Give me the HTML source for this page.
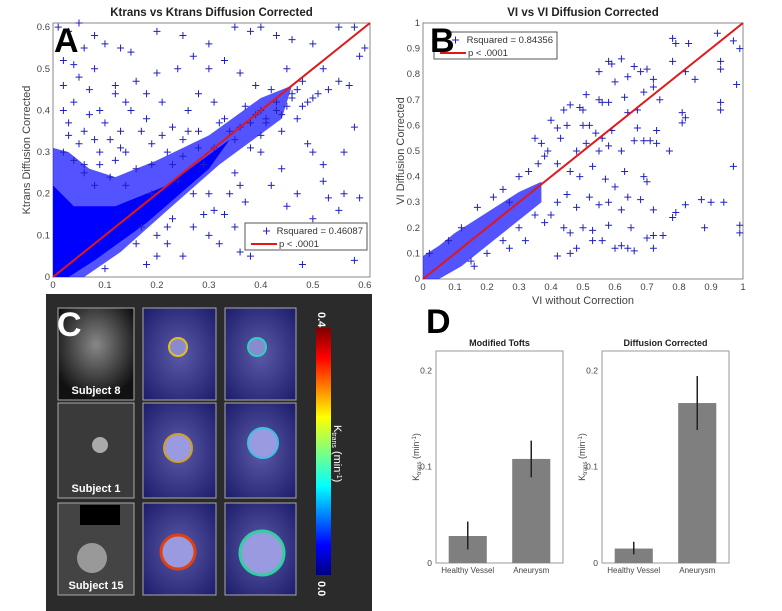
<!DOCTYPE html>
<html><head><meta charset="utf-8"><style>
html,body{margin:0;padding:0;background:#fff;}
svg{display:block;font-family:"Liberation Sans",sans-serif;}
</style></head><body>
<svg id="fig" width="782" height="611" viewBox="0 0 782 611">
<defs>
<linearGradient id="jet" x1="0" y1="1" x2="0" y2="0">
<stop offset="0" stop-color="#00007f"/><stop offset="0.12" stop-color="#0000ff"/><stop offset="0.36" stop-color="#00ffff"/><stop offset="0.5" stop-color="#7fff7f"/><stop offset="0.64" stop-color="#ffff00"/><stop offset="0.88" stop-color="#ff0000"/><stop offset="1" stop-color="#7f0000"/>
</linearGradient>
<radialGradient id="ct1" cx="0.5" cy="0.4" r="0.6"><stop offset="0" stop-color="#888"/><stop offset="1" stop-color="#111"/></radialGradient>
<radialGradient id="ov" cx="0.5" cy="0.5" r="0.7"><stop offset="0" stop-color="#5a5aa8"/><stop offset="1" stop-color="#1c1c6a"/></radialGradient>
</defs>
<g id="gA"></g>
<g id="gB"></g>
<g id="gC">
<rect x="46" y="294" width="326" height="317" fill="#2b2b2b"/>
<rect x="58" y="308" width="76" height="92" fill="url(#ct1)" stroke="#aaa"/>
<rect x="58" y="403" width="76" height="95" fill="#3a3a3a" stroke="#aaa"/>
<circle cx="100" cy="445" r="8" fill="#aaa"/>
<rect x="58" y="503" width="76" height="92" fill="#444" stroke="#aaa"/>
<circle cx="92" cy="558" r="15" fill="#999"/>
<rect x="80" y="505" width="40" height="20" fill="#000"/>
<text x="96" y="394" fill="#fff" font-size="11" font-weight="bold" text-anchor="middle">Subject 8</text>
<text x="96" y="492" fill="#fff" font-size="11" font-weight="bold" text-anchor="middle">Subject 1</text>
<text x="96" y="589" fill="#fff" font-size="11" font-weight="bold" text-anchor="middle">Subject 15</text>
<rect x="143" y="308" width="73" height="92" fill="url(#ov)" stroke="#aaa"/>
<rect x="225" y="308" width="71" height="92" fill="url(#ov)" stroke="#aaa"/>
<rect x="143" y="403" width="73" height="95" fill="url(#ov)" stroke="#aaa"/>
<rect x="225" y="403" width="71" height="95" fill="url(#ov)" stroke="#aaa"/>
<rect x="143" y="503" width="73" height="92" fill="url(#ov)" stroke="#aaa"/>
<rect x="225" y="503" width="71" height="92" fill="url(#ov)" stroke="#aaa"/>
<circle cx="178" cy="347" r="9" fill="#8a8ad0" stroke="#e0c020" stroke-width="2"/>
<circle cx="257" cy="347" r="9" fill="#8a8ad0" stroke="#30d0c0" stroke-width="2"/>
<circle cx="178" cy="448" r="14" fill="#9a9ae0" stroke="#d0a020" stroke-width="2"/>
<circle cx="263" cy="443" r="15" fill="#9a9ae0" stroke="#40c0e0" stroke-width="2"/>
<circle cx="178" cy="552" r="17" fill="#9a9ae0" stroke="#e04010" stroke-width="3"/>
<circle cx="262" cy="553" r="22" fill="#9a9ae0" stroke="#30d0a0" stroke-width="3"/>
<rect x="316" y="328" width="15" height="247" fill="url(#jet)"/>
<text transform="translate(318,312) rotate(90)" fill="#fff" font-size="11" font-weight="bold">0.4</text>
<text transform="translate(318,581) rotate(90)" fill="#fff" font-size="11" font-weight="bold">0.0</text>
<text transform="translate(334,425) rotate(90)" fill="#fff" font-size="11">K<tspan font-size="7" dy="2">trans</tspan><tspan dy="-2"> (min</tspan><tspan font-size="7" dy="-3">-1</tspan><tspan dy="3">)</tspan></text>
<text x="57" y="336" fill="#fff" font-size="34" font-weight="bold">C</text>
</g>
<g id="gD"></g>
</svg>
<script>
// ---------- Panel A data ----------
const aX = [0.01,0.03,0.05,0.08,0.1,0.13,0.15,0.2,0.25,0.3,0.35,0.38,0.4,0.43,0.46,0.5,0.55,0.58,0.6,0.02,0.05,0.07,0.02,0.04,0.09,0.12,0.16,0.2,0.24,0.27,0.3,0.33,0.36,0.39,0.42,0.45,0.48,0.52,0.55,0.57,0.59,0.03,0.06,0.08,0.1,0.13,0.15,0.18,0.21,0.23,0.26,0.28,0.31,0.33,0.36,0.4,0.43,0.46,0.5,0.53,0.02,0.04,0.06,0.09,0.12,0.14,0.16,0.19,0.22,0.25,0.28,0.31,0.35,0.38,0.4,0.44,0.47,0.49,0.3,0.33,0.35,0.37,0.4,0.42,0.44,0.45,0.47,0.48,0.5,0.52,0.53,0.55,0.56,0.58,0.58,0.59,0.36,0.38,0.3,0.32,0.27,0.25,0.22,0.2,0.18,0.27,0.29,0.4,0.43,0.35,0.5,0.52,0.56,0.46,0.48,0.41,0.44,0.38,0.24,0.19,0.14,0.11,0.08,0.06,0.17,0.23,0.03,0.05,0.07,0.09,0.11,0.13,0.02,0.04,0.06,0.08,0.17,0.19,0.21,0.23,0.25,0.18,0.14,0.12,0.26,0.28,0.32,0.34,0.37,0.39,0.41,0.43,0.45,0.47,0.49,0.51,0.2,0.22,0.16,0.1,0.34,0.36,0.31,0.29];
const aY = [0.6,0.59,0.61,0.58,0.56,0.55,0.54,0.59,0.58,0.56,0.6,0.59,0.6,0.58,0.57,0.56,0.6,0.6,0.55,0.52,0.48,0.45,0.46,0.42,0.4,0.44,0.47,0.49,0.5,0.53,0.5,0.52,0.49,0.46,0.45,0.5,0.47,0.5,0.47,0.46,0.53,0.37,0.35,0.33,0.37,0.35,0.4,0.38,0.42,0.36,0.4,0.44,0.42,0.38,0.36,0.4,0.42,0.44,0.43,0.45,0.3,0.28,0.27,0.3,0.28,0.3,0.26,0.32,0.3,0.33,0.35,0.31,0.33,0.37,0.34,0.35,0.38,0.32,0.2,0.15,0.25,0.18,0.3,0.22,0.26,0.17,0.2,0.03,0.14,0.23,0.19,0.16,0.2,0.04,0.36,0.19,0.06,0.05,0.1,0.08,0.12,0.05,0.08,0.05,0.03,0.2,0.27,0.12,0.1,0.12,0.3,0.27,0.3,0.43,0.41,0.37,0.39,0.31,0.23,0.2,0.22,0.24,0.22,0.25,0.12,0.14,0.34,0.32,0.39,0.27,0.33,0.31,0.4,0.51,0.55,0.5,0.35,0.27,0.34,0.27,0.29,0.44,0.42,0.46,0.35,0.31,0.37,0.35,0.41,0.39,0.38,0.4,0.41,0.45,0.42,0.44,0.1,0.12,0.08,0.02,0.2,0.22,0.16,0.15];
const aDense = [[0,0],[0,0.31],[0.03,0.3],[0.07,0.26],[0.12,0.24],[0.2,0.28],[0.3,0.34],[0.4,0.43],[0.46,0.46],[0.44,0.38],[0.32,0.27],[0.22,0.16],[0.13,0.06],[0.06,0]];
const aCore = [[0,0],[0,0.22],[0.04,0.17],[0.12,0.17],[0.22,0.22],[0.34,0.33],[0.3,0.26],[0.18,0.13],[0.08,0.04],[0.03,0]];
const aTicks = [0,0.1,0.2,0.3,0.4,0.5,0.6];
// ---------- Panel B data ----------
const bX = [0.78,0.79,0.83,0.92,0.97,0.99,0.55,0.58,0.59,0.62,0.66,0.68,0.7,0.72,0.64,0.78,0.82,0.85,0.93,0.93,0.98,0.6,0.63,0.69,0.72,0.74,0.51,0.44,0.46,0.49,0.5,0.55,0.56,0.58,0.64,0.67,0.81,0.82,0.93,0.93,0.4,0.42,0.45,0.5,0.52,0.54,0.56,0.59,0.67,0.73,0.81,0.35,0.37,0.43,0.48,0.51,0.55,0.58,0.62,0.66,0.69,0.71,0.73,0.77,0.38,0.42,0.46,0.49,0.53,0.57,0.6,0.63,0.69,0.7,0.97,0.42,0.45,0.48,0.52,0.55,0.58,0.62,0.64,0.68,0.72,0.78,0.79,0.82,0.87,0.9,0.94,0.99,0.99,0.44,0.46,0.5,0.53,0.56,0.58,0.6,0.62,0.65,0.7,0.72,0.75,0.72,0.64,0.66,0.53,0.48,0.46,0.42,0.88,0.3,0.33,0.36,0.39,0.35,0.38,0.4,0.3,0.32,0.25,0.27,0.2,0.22,0.25,0.27,0.17,0.15,0.16,0.02,0.08,0.12];
const bY = [0.94,0.92,0.92,0.96,0.93,0.9,0.81,0.85,0.84,0.86,0.83,0.81,0.82,0.78,0.79,0.85,0.81,0.78,0.85,0.82,0.76,0.77,0.71,0.73,0.75,0.7,0.72,0.66,0.68,0.67,0.66,0.7,0.69,0.69,0.65,0.66,0.65,0.63,0.69,0.66,0.62,0.59,0.6,0.6,0.6,0.57,0.55,0.58,0.59,0.58,0.61,0.55,0.53,0.55,0.5,0.53,0.5,0.52,0.5,0.54,0.54,0.54,0.53,0.5,0.48,0.45,0.42,0.4,0.44,0.39,0.36,0.42,0.4,0.38,0.44,0.3,0.33,0.28,0.32,0.29,0.3,0.27,0.32,0.31,0.27,0.24,0.26,0.29,0.31,0.3,0.3,0.21,0.18,0.2,0.18,0.2,0.19,0.15,0.21,0.12,0.13,0.2,0.16,0.17,0.17,0.12,0.12,0.11,0.15,0.12,0.1,0.09,0.2,0.4,0.42,0.45,0.5,0.25,0.22,0.25,0.2,0.15,0.15,0.12,0.1,0.32,0.35,0.3,0.28,0.07,0.05,0.1,0.15,0.2];
const bDense = [[0,0],[0,0.09],[0.05,0.13],[0.1,0.18],[0.2,0.26],[0.3,0.34],[0.37,0.38],[0.37,0.3],[0.3,0.23],[0.2,0.13],[0.12,0.05],[0.05,0]];
const bTicks = [0,0.1,0.2,0.3,0.4,0.5,0.6,0.7,0.8,0.9,1];
// ---------- Panel D data ----------
const dCats = ["Healthy Vessel","Aneurysm"];
const dTofts = [0.028,0.108];
const dToftsLo = [0.014,0.089];
const dToftsHi = [0.043,0.127];
const dDiff = [0.015,0.166];
const dDiffLo = [0.009,0.138];
const dDiffHi = [0.022,0.194];
const dTicks = [0,0.1,0.2];

const NS="http://www.w3.org/2000/svg";
function mk(parent,tag,attrs,text){const e=document.createElementNS(NS,tag);for(const k in attrs)e.setAttribute(k,attrs[k]);if(text!==undefined)e.textContent=text;parent.appendChild(e);return e;}

function scatter(g,o){
  const sx=v=>o.x0+(v-0)/o.max*(o.x1-o.x0);
  const sy=v=>o.y1-(v-0)/o.max*(o.y1-o.y0);
  const bg=mk(g,'rect',{x:o.x0,y:o.y0,width:o.x1-o.x0,height:o.y1-o.y0,fill:'#fff',stroke:'#888'});
  
  
  const t=mk(g,'text',{x:(o.x0+o.x1)/2,y:o.y0-7,'text-anchor':'middle','font-size':11.5,'font-weight':'bold',fill:'#222'},o.title);
  
  
  o.ticks.forEach(v=>{
    const tx=mk(g,'text',{x:sx(v),y:o.y1+11,'text-anchor':'middle','font-size':9.5,fill:'#444'},String(v));
    
    
    const ty=mk(g,'text',{x:o.x0-3,y:sy(v)+3,'text-anchor':'end','font-size':9.5,fill:'#444'},String(v));
    
    
  });
  const dp=o.dense.map(p=>sx(p[0])+','+sy(p[1])).join(' ');
  const d1=mk(g,'polygon',{points:dp,fill:'#1a1aff','fill-opacity':0.75});
  
  
  if(o.core){const cp=o.core.map(p=>sx(p[0])+','+sy(p[1])).join(' ');
    const d2=mk(g,'polygon',{points:cp,fill:'#0000ff'});
    
    }
  o.xs.forEach((v,i)=>{
    const x=sx(v),y=sy(o.ys[i]);
    const m=mk(g,'path',{d:`M${x-3.5},${y}H${x+3.5}M${x},${y-3.5}V${y+3.5}`,stroke:'#2020c0','stroke-width':1});
    
    
  });
  const l=mk(g,'line',{x1:sx(0),y1:sy(0),x2:sx(o.max),y2:sy(o.max),stroke:'#e01818','stroke-width':2});
  
  
  const lg=mk(g,'g',{});
  
  
  const L=o.leg;
  mk(lg,'rect',{x:L[0],y:L[1],width:L[2],height:L[3],fill:'#fff',stroke:'#555'});
  mk(lg,'path',{d:`M${L[0]+18},${L[1]+8}h7M${L[0]+21.5},${L[1]+4.5}v7`,stroke:'#2020c0'});
  mk(lg,'text',{x:L[0]+L[2]-4,y:L[1]+11,'text-anchor':'end','font-size':9.5,fill:'#333'},o.r2);
  mk(lg,'line',{x1:L[0]+6,y1:L[1]+21,x2:L[0]+32,y2:L[1]+21,stroke:'#e01818','stroke-width':2});
  mk(lg,'text',{x:L[0]+34,y:L[1]+24,'font-size':9.5,fill:'#333'},'p < .0001');
  const ylab=mk(g,'text',{transform:`translate(${o.ylx},${(o.y0+o.y1)/2}) rotate(-90)`,'text-anchor':'middle','font-size':11,fill:'#444'},o.ylab);
  
  
  const pl=mk(g,'text',{x:o.lx,y:o.ly,'font-size':34,'font-weight':'bold',fill:'#000'},o.letter);
  
  
}
scatter(document.getElementById('gA'),{p:'panel-a',x0:53,x1:370,y0:23,y1:277,max:0.61,xs:aX,ys:aY,dense:aDense,core:aCore,ticks:aTicks,title:'Ktrans vs Ktrans Diffusion Corrected',leg:[245,223,122,27],r2:'Rsquared = 0.46087',ylab:'Ktrans Diffusion Corrected',ylx:30,lx:54,ly:52,letter:'A'});
scatter(document.getElementById('gB'),{p:'panel-b',x0:423,x1:743,y0:23,y1:279,max:1,xs:bX,ys:bY,dense:bDense,ticks:bTicks,title:'VI vs VI Diffusion Corrected',leg:[434,32,123,27],r2:'Rsquared = 0.84356',ylab:'VI Diffusion Corrected',ylx:404,lx:430,ly:52,letter:'B'});
const gB=document.getElementById('gB');
const bxl=mk(gB,'text',{x:583,y:304,'text-anchor':'middle','font-size':11,fill:'#444'},'VI without Correction');



function bars(g,o){
  const sy=v=>o.y1-v/0.22*(o.y1-o.y0);
  const ax=mk(g,'rect',{x:o.x0,y:o.y0,width:o.x1-o.x0,height:o.y1-o.y0,fill:'#fff',stroke:'#999'});
  
  
  const t=mk(g,'text',{x:(o.x0+o.x1)/2,y:o.y0-5,'text-anchor':'middle','font-size':9,'font-weight':'bold',fill:'#222'},o.title);
  
  
  dTicks.forEach(v=>{
    const tl=mk(g,'text',{x:o.x0-4,y:sy(v)+3,'text-anchor':'end','font-size':8.5,fill:'#444'},String(v));
    
    
  });
  const w=o.x1-o.x0, bw=w*0.3;
  dCats.forEach((c,i)=>{
    const cx=o.x0+w*(i===0?0.25:0.75);
    const b=mk(g,'rect',{x:cx-bw/2,y:sy(o.vals[i]),width:bw,height:sy(0)-sy(o.vals[i]),fill:'#7f7f7f'});
    
    
    const e=mk(g,'line',{x1:cx,x2:cx,y1:sy(o.lo[i]),y2:sy(o.hi[i]),stroke:'#222','stroke-width':1.5});
    
    
    const cl=mk(g,'text',{x:cx,y:o.y1+10,'text-anchor':'middle','font-size':8,fill:'#444'},c);
    
    
  });
  const yl=mk(g,'text',{transform:`translate(${o.x0-17},${(o.y0+o.y1)/2}) rotate(-90)`,'text-anchor':'middle','font-size':9,fill:'#444'});
  
  
  yl.innerHTML='K<tspan font-size="6" dy="2">trans</tspan><tspan dy="-2"> (min</tspan><tspan font-size="6" dy="-3">-1</tspan><tspan dy="3">)</tspan>';
}
const gD=document.getElementById('gD');
bars(gD,{p:'tofts',x0:436,x1:563,y0:351,y1:563,vals:dTofts,lo:dToftsLo,hi:dToftsHi,title:'Modified Tofts'});
bars(gD,{p:'diffusion',x0:602,x1:729,y0:351,y1:563,vals:dDiff,lo:dDiffLo,hi:dDiffHi,title:'Diffusion Corrected'});
const dl=mk(gD,'text',{x:426,y:333,'font-size':34,'font-weight':'bold',fill:'#000'},'D');


</script>
</body></html>
